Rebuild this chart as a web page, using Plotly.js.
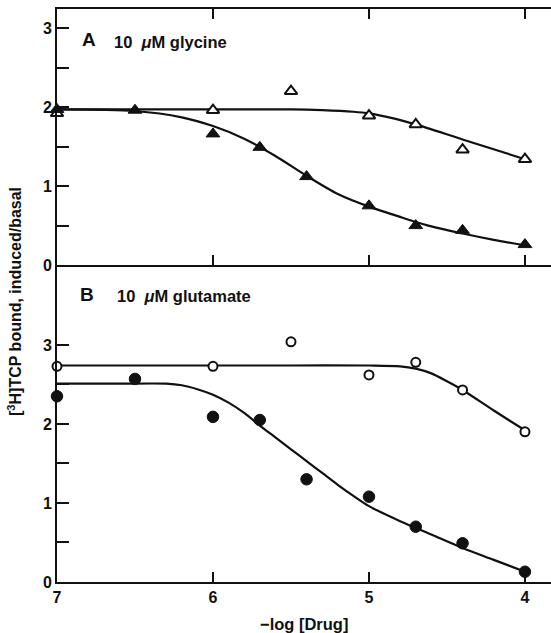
<!DOCTYPE html>
<html>
<head>
<meta charset="utf-8">
<script src="https://cdn.plot.ly/plotly-3.0.1.min.js"></script>
<style>html,body{margin:0;padding:0;background:#fff;}#chart{width:551px;height:633px;}</style>
</head>
<body>
<div id="chart"></div>
<script>
// ---- Data ----
// Panel A: 10 µM glycine
const aOpenX = [7, 6, 5.5, 5, 4.7, 4.4, 4];
const aOpenY = [1.92, 1.96, 2.20, 1.89, 1.78, 1.46, 1.34];
const aFillX = [7, 6.5, 6, 5.7, 5.4, 5, 4.7, 4.4, 4];
const aFillY = [1.97, 1.96, 1.66, 1.49, 1.12, 0.75, 0.50, 0.44, 0.26];
// fitted curves panel A
const aOpenFitX = [7, 6.5, 6, 5.5, 5.3, 5.1, 5, 4.85, 4.7, 4.4, 4];
const aOpenFitY = [1.97, 1.97, 1.97, 1.97, 1.96, 1.94, 1.92, 1.86, 1.78, 1.59, 1.34];
const aFillFitX = [7, 6.5, 6.2, 6, 5.8, 5.6, 5.4, 5.2, 5, 4.8, 4.6, 4.4, 4.2, 4];
const aFillFitY = [1.97, 1.95, 1.87, 1.76, 1.60, 1.38, 1.13, 0.90, 0.74, 0.61, 0.49, 0.40, 0.32, 0.25];

// Panel B: 10 µM glutamate
const bOpenX = [7, 6, 5.5, 5, 4.7, 4.4, 4];
const bOpenY = [2.73, 2.73, 3.04, 2.62, 2.78, 2.43, 1.90];
const bFillX = [7, 6.5, 6, 5.7, 5.4, 5, 4.7, 4.4, 4];
const bFillY = [2.35, 2.57, 2.09, 2.05, 1.30, 1.08, 0.70, 0.49, 0.13];
// fitted curves panel B
const bOpenFitX = [7, 6.5, 6, 5.5, 5, 4.8, 4.7, 4.6, 4.5, 4.4, 4.2, 4];
const bOpenFitY = [2.74, 2.74, 2.74, 2.74, 2.74, 2.73, 2.70, 2.64, 2.54, 2.43, 2.17, 1.92];
const bFillFitX = [7, 6.6, 6.3, 6.2, 6.1, 6, 5.9, 5.8, 5.7, 5.6, 5.5, 5.4, 5.3, 5.2, 5.1, 5, 4.8, 4.6, 4.4, 4.2, 4];
const bFillFitY = [2.51, 2.51, 2.51, 2.49, 2.44, 2.37, 2.27, 2.14, 1.98, 1.83, 1.68, 1.53, 1.38, 1.23, 1.09, 0.96, 0.77, 0.60, 0.43, 0.28, 0.13];

const xTicks = [7, 6, 5, 4];
const xTickText = ['7', '6', '5', '4'];
const yTicks = [0, 1, 2, 3];
const yTickText = ['0', '1', '2', '3'];
const yMinorTicks = [0.5, 1.5, 2.5];

// ---- Styles ----
const FONT = 'Liberation Sans, Arial, Helvetica, sans-serif';
const INK = '#111';
const lineStyle = {color: INK, width: 2.2, shape: 'spline', smoothing: 0.8};
const tickFont = {family: FONT, size: 16, color: INK, weight: 'bold'};

const traces = [
  {x: aOpenFitX, y: aOpenFitY, xaxis: 'x2', yaxis: 'y2', mode: 'lines', line: lineStyle, hoverinfo: 'skip'},
  {x: aFillFitX, y: aFillFitY, xaxis: 'x2', yaxis: 'y2', mode: 'lines', line: lineStyle, hoverinfo: 'skip'},
  {x: aOpenX, y: aOpenY, xaxis: 'x2', yaxis: 'y2', mode: 'markers', cliponaxis: false,
   marker: {symbol: 'triangle-up', size: 11, color: '#fff', line: {color: INK, width: 2}}},
  {x: aFillX, y: aFillY, xaxis: 'x2', yaxis: 'y2', mode: 'markers', cliponaxis: false,
   marker: {symbol: 'triangle-up', size: 12, color: INK, line: {color: INK, width: 1}}},
  {x: bOpenFitX, y: bOpenFitY, xaxis: 'x', yaxis: 'y', mode: 'lines', line: lineStyle, hoverinfo: 'skip'},
  {x: bFillFitX, y: bFillFitY, xaxis: 'x', yaxis: 'y', mode: 'lines', line: lineStyle, hoverinfo: 'skip'},
  {x: bOpenX, y: bOpenY, xaxis: 'x', yaxis: 'y', mode: 'markers', cliponaxis: false,
   marker: {symbol: 'circle', size: 9, color: '#fff', line: {color: INK, width: 2}}},
  {x: bFillX, y: bFillY, xaxis: 'x', yaxis: 'y', mode: 'markers', cliponaxis: false,
   marker: {symbol: 'circle', size: 11.5, color: INK, line: {color: INK, width: 1}}}
];

const XR = [7, 3.833];
const baseX = {range: XR, showgrid: false, zeroline: false, showline: true, linecolor: INK, linewidth: 2,
  ticks: 'inside', ticklen: 10, tickwidth: 2, tickcolor: INK, tickfont: tickFont};
const baseY = {showgrid: false, zeroline: false, showline: true, linecolor: INK, linewidth: 2,
  ticks: 'inside', ticklen: 12, tickwidth: 2, tickcolor: INK, tickvals: yTicks, ticktext: yTickText,
  tickfont: tickFont,
  minor: {tickvals: yMinorTicks, ticks: 'inside', ticklen: 12, tickwidth: 2, tickcolor: INK, showgrid: false}};
const rightY = {showgrid: false, zeroline: false, showline: false, side: 'right', anchor: 'free', position: 1,
  ticks: 'inside', ticklen: 7, tickwidth: 2, tickcolor: INK, showticklabels: false};

const layout = {
  width: 551, height: 633,
  margin: {l: 57, r: 0, t: 9, b: 51},
  paper_bgcolor: '#fff', plot_bgcolor: 'rgba(0,0,0,0)',
  showlegend: false,
  xaxis: Object.assign({}, baseX, {anchor: 'y', tickvals: xTicks, ticktext: xTickText}),
  xaxis2: Object.assign({}, baseX, {anchor: 'y2', tickvals: [6, 5, 4], showticklabels: false, mirror: 'ticks'}),
  yaxis: Object.assign({}, baseY, {domain: [0, 0.553], range: [0, 4.01], anchor: 'x'}),
  yaxis2: Object.assign({}, baseY, {domain: [0.553, 1], range: [0, 3.24], anchor: 'x2'}),
  yaxis3: Object.assign({}, rightY, {overlaying: 'y2', range: [0, 3.24], tickvals: [2]}),
  yaxis4: Object.assign({}, rightY, {overlaying: 'y', range: [0, 4.01], tickvals: [0.5, 1, 1.5, 2, 2.5, 3]}),
  annotations: [
    {text: 'A', xref: 'paper', yref: 'paper', x: 0.064, y: 0.946, xanchor: 'center', yanchor: 'middle', showarrow: false,
     font: {family: FONT, size: 19, color: INK, weight: 'bold'}},
    {text: '10\u00a0\u00a0<i>μ</i>M glycine', xref: 'paper', yref: 'paper', x: 0.111, y: 0.9425, xanchor: 'left', yanchor: 'middle', showarrow: false,
     font: {family: FONT, size: 16.5, color: INK, weight: 'bold'}},
    {text: 'B', xref: 'paper', yref: 'paper', x: 0.061, y: 0.501, xanchor: 'center', yanchor: 'middle', showarrow: false,
     font: {family: FONT, size: 19, color: INK, weight: 'bold'}},
    {text: '10\u00a0\u00a0<i>μ</i>M glutamate', xref: 'paper', yref: 'paper', x: 0.117, y: 0.499, xanchor: 'left', yanchor: 'middle', showarrow: false,
     font: {family: FONT, size: 16.5, color: INK, weight: 'bold'}},
    {text: '−log [Drug]', xref: 'paper', yref: 'paper', x: 0.5, y: -0.073, xanchor: 'center', yanchor: 'middle', showarrow: false,
     font: {family: FONT, size: 16.5, color: INK, weight: 'bold'}},
    {text: '[<sup>3</sup>H]TCP bound, induced/basal', xref: 'paper', yref: 'paper', x: -0.0855, y: 0.49,
     xanchor: 'center', yanchor: 'middle',
     textangle: -90, showarrow: false, font: {family: FONT, size: 16, color: INK, weight: 'bold'}}
  ]
};

Plotly.newPlot('chart', traces, layout, {staticPlot: true, displayModeBar: false});
</script>
</body>
</html>
